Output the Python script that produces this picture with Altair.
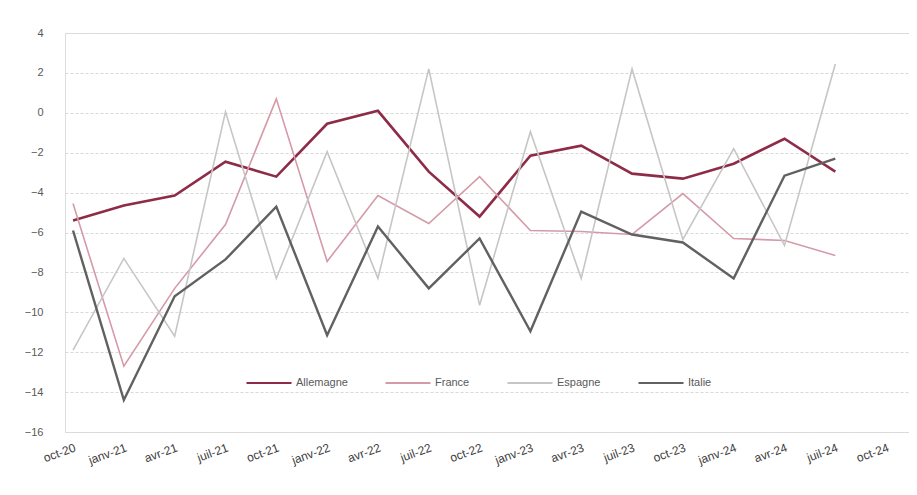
import altair as alt
import pandas as pd

quarters = ["oct-20", "janv-21", "avr-21", "juil-21", "oct-21", "janv-22", "avr-22",
            "juil-22", "oct-22", "janv-23", "avr-23", "juil-23", "oct-23", "janv-24",
            "avr-24", "juil-24", "oct-24"]

series_names = ["Allemagne", "France", "Espagne", "Italie"]

allemagne = [-5.4, -4.65, -4.15, -2.45, -3.2, -0.55, 0.1, -2.95, -5.2, -2.15, -1.65,
             -3.05, -3.3, -2.55, -1.3, -2.95]
france = [-4.55, -12.7, -8.8, -5.6, 0.7, -7.45, -4.15, -5.55, -3.2, -5.9, -5.95,
          -6.1, -4.05, -6.3, -6.4, -7.15]
espagne = [-11.9, -7.3, -11.2, 0.05, -8.3, -1.95, -8.3, 2.2, -9.65, -0.95, -8.3,
           2.2, -6.35, -1.8, -6.65, 2.45]
italie = [-5.9, -14.4, -9.2, -7.35, -4.7, -11.15, -5.7, -8.8, -6.3, -10.95, -4.95,
          -6.1, -6.5, -8.3, -3.15, -2.3]

colors = ["#8e2c48", "#d59aa8", "#c6c6c6", "#616161"]
widths = [2.6, 1.6, 1.6, 2.4]

rows = []
for name, vals in zip(series_names, [allemagne, france, espagne, italie]):
    for i, v in enumerate(vals):
        rows.append({"idx": i, "series": name, "value": v})
df = pd.DataFrame(rows)

label_expr = "[" + ",".join("'" + q + "'" for q in quarters) + "][datum.value]"

x_enc = alt.X("idx:Q",
              scale=alt.Scale(domain=[-0.158, 16.45], nice=False, zero=False),
              axis=alt.Axis(values=list(range(len(quarters))), labelExpr=label_expr,
                            grid=False, domain=False, ticks=False, labelAngle=-20,
                            labelAlign="right", labelBaseline="top", labelPadding=10,
                            labelFontSize=12, labelColor="#404040", title=None,
                            labelOverlap=False))
y_enc = alt.Y("value:Q",
              scale=alt.Scale(domain=[-16, 4], nice=False),
              axis=alt.Axis(values=list(range(-16, 5, 2)), format="d", grid=True,
                            gridDash=[3, 2], gridColor="#d9d9d9", domain=False,
                            ticks=False, labelPadding=22, labelColor="#595959",
                            labelFontSize=11, title=None))
color_enc = alt.Color("series:N",
                      scale=alt.Scale(domain=series_names, range=colors),
                      sort=series_names,
                      legend=alt.Legend(orient="none", legendX=180, legendY=326,
                                        direction="horizontal", columns=4,
                                        title=None, symbolType="stroke",
                                        symbolSize=2025, symbolStrokeWidth=2.2,
                                        labelColor="#595959", labelFontSize=11,
                                        columnPadding=33, labelOffset=3))

base = alt.Chart(df)
layers = []
for name, w in zip(series_names, widths):
    layers.append(
        base.transform_filter(alt.datum.series == name)
        .mark_line(strokeWidth=w, strokeJoin="miter")
        .encode(x=x_enc, y=y_enc, color=color_enc, order=alt.Order("idx:Q"))
    )

chart = alt.layer(*layers).properties(
    width=844,
    height=399,
    autosize=alt.AutoSizeParams(type="none"),
    padding={"left": 57, "top": 25, "right": 0, "bottom": 55},
).configure_view(
    strokeWidth=0
).configure(
    font="Liberation Sans",
    background="white"
)

chart.save("out.html", embed_options={"renderer": "svg", "actions": False})
